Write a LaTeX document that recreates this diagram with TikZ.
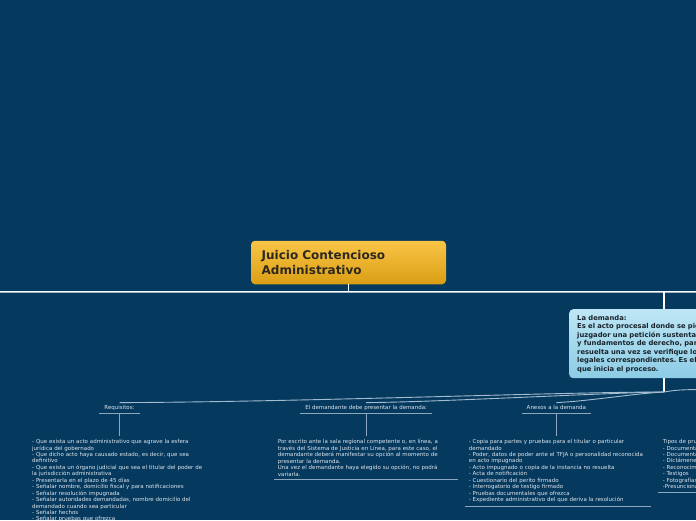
\documentclass[tikz,border=0pt]{standalone}
\usepackage{fontspec}
\setmainfont{DejaVu Sans}
\frenchspacing
\definecolor{bg}{RGB}{5,57,94}
\definecolor{txt}{RGB}{222,230,237}
\definecolor{ulcol}{RGB}{140,168,192}
\definecolor{brcol}{RGB}{165,188,208}
\definecolor{rtop}{RGB}{249,197,70}
\definecolor{rbot}{RGB}{218,158,20}
\definecolor{rtext}{RGB}{45,40,30}
\definecolor{btop}{RGB}{190,230,245}
\definecolor{bbot}{RGB}{140,204,229}
\definecolor{btext}{RGB}{25,35,42}
\definecolor{hl2}{RGB}{160,182,204}
\begin{document}
\begin{tikzpicture}[x=1pt,y=-1pt,
  rootbox/.style={rectangle, rounded corners=4pt, top color=rtop, bottom color=rbot, draw=none,
    minimum width=195pt, minimum height=43.5pt, text width=173.6pt, inner xsep=10.7pt, inner ysep=0pt,
    align=left, font=\fontsize{12}{14.5}\selectfont\bfseries\frenchspacing, text=rtext},
  mainbox/.style={rectangle, rounded corners=4pt, top color=btop, bottom color=bbot, draw=none,
    minimum height=69pt, text width=250pt, inner xsep=8pt, inner ysep=0pt, align=left,
    font=\fontsize{6.8}{8.5}\selectfont\bfseries\frenchspacing, text=btext, anchor=north west},
  sublabel/.style={inner xsep=5pt, inner ysep=2.5pt, text height=4pt, text depth=1.3pt,
    font=\fontsize{5.5}{6.45}\selectfont\frenchspacing, text=txt, anchor=south},
  bodytext/.style={anchor=north west, inner xsep=3.7pt, inner ysep=3.2pt, align=left,
    font=\fontsize{5.5}{6.45}\selectfont\frenchspacing, text=txt},
  underl/.style={draw=ulcol, line width=0.8pt},
  conn/.style={draw=ulcol, line width=0.8pt},
  branch/.style={draw=brcol, line width=0.9pt},
  stem/.style={draw=white, line width=1.3pt}
]
\useasboundingbox (0,0) rectangle (696,520);
\fill[bg] (0,0) rectangle (696,520);
\clip (0,0) rectangle (696,520);

% main horizontal line
\coordinate (hl) at (-10,291);
\coordinate (hr) at (710,291);
\draw[hl2, line width=0.9pt] ([yshift=-1.4pt]hl) -- ([yshift=-1.4pt]hr);
\draw[white, line width=0.9pt] (hl) -- (hr);

% root
\node[rootbox] (root) at (348.5,262.5) {Juicio Contencioso\\Administrativo};
\draw[stem] (root.south) -- (root.south |- hl);

% main topic
\node[mainbox] (dem) at (569,309) {La demanda:\\
Es el acto procesal donde se pide al\\
juzgador una petición sustentada en hechos\\
y fundamentos de derecho, para que sea\\
resuelta una vez se verifique los requisitos\\
legales correspondientes. Es el acto\\
que inicia el proceso.};
\coordinate (dtop) at (664,291);
\draw[stem] (dtop) -- (dtop |- dem.north);
\coordinate (br) at (664,392);
\draw[stem] (dtop |- dem.south) -- (br);

% sub labels
\node[sublabel] (reqlab) at (119.5,413.3) {Requisitos:};
\node[sublabel] (demlab) at (366.2,413.3) {El demandante debe presentar la demanda:};
\node[sublabel] (anxlab) at (556.4,413.3) {Anexos a la demanda};
\coordinate (tipend) at (770,401);

\foreach \n in {reqlab,demlab,anxlab}
  \draw[underl] (\n.south west) -- (\n.south east);

% branches
\draw[branch] (br) .. controls (560,392) and (300,402) .. (reqlab.north);
\draw[branch] (br) .. controls (600,393) and (440,402) .. (demlab.north);
\draw[branch] (br) .. controls (630,394) and (590,401) .. (anxlab.north);
\draw[branch] (br) .. controls (690,387) and (730,390) .. (tipend);

% bodies
\node[bodytext, text width=182pt] (reqbody) at (28.3,436) {- Que exista un acto administrativo que agrave la esfera\\
jurídica del gobernado\\
- Que dicho acto haya causado estado, es decir, que sea\\
definitivo\\
- Que exista un órgano judicial que sea el titular del poder de\\
la jurisdicción administrativa\\
- Presentarla en el plazo de 45 días\\
- Señalar nombre, domicilio fiscal y para notificaciones\\
- Señalar resolución impugnada\\
- Señalar autoridades demandadas, nombre domicilio del\\
demandado cuando sea particular\\
- Señalar hechos\\
- Señalar pruebas que ofrezca};

\node[bodytext, text width=176.3pt] (dembody) at (274,436) {Por escrito ante la sala regional competente o, en línea, a\\
través del Sistema de Justicia en Línea, para este caso, el\\
demandante deberá manifestar su opción al momento de\\
presentar la demanda.\\
Una vez el demandante haya elegido su opción, no podrá\\
variarla.};

\node[bodytext, text width=178pt] (anxbody) at (465,436) {- Copia para partes y pruebas para el titular o particular\\
demandado\\
- Poder, datos de poder ante el TFJA o personalidad reconocida\\
en acto impugnado\\
- Acto impugnado o copia de la instancia no resuelta\\
- Acta de notificación\\
- Cuestionario del perito firmado\\
- Interrogatorio de testigo firmado\\
- Pruebas documentales que ofrezca\\
- Expediente administrativo del que deriva la resolución};

\node[bodytext, text width=150pt, inner xsep=4.7pt] (tipbody) at (658,436) {Tipos de pruebas:\\
- Documentales públicas\\
- Documentales privadas\\
- Dictámenes periciales\\
- Reconocimiento o inspección judicial\\
- Testigos\\
- Fotografías\\
-Presuncional};

\draw[conn] (reqlab.south) -- (reqlab.south |- reqbody.north);
\draw[conn] (demlab.south) -- (demlab.south |- dembody.north);
\draw[conn] (anxlab.south) -- (anxlab.south |- anxbody.north);

\foreach \n in {reqbody,dembody,anxbody,tipbody}
  \draw[underl] (\n.south west) -- (\n.south east);
\end{tikzpicture}
\end{document}
